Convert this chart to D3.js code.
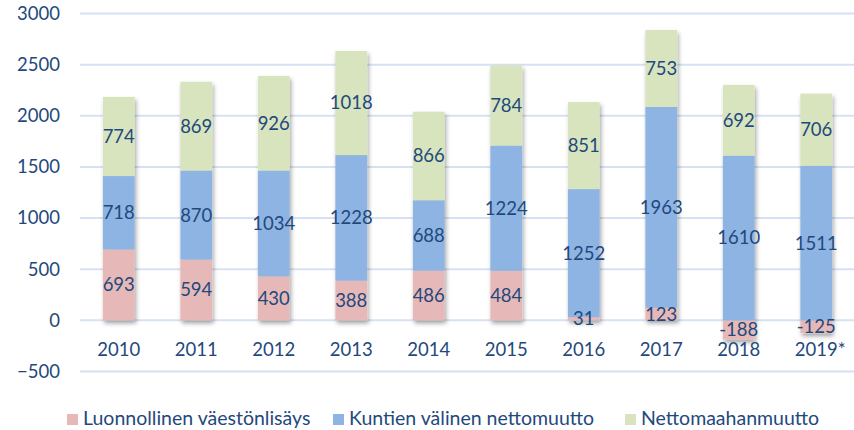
<!DOCTYPE html>
<html>
<head>
<meta charset="utf-8">
<script src="https://cdn.jsdelivr.net/npm/d3@7/dist/d3.min.js"></script>
<style>
  body { margin: 0; background: #fff; }
  svg text { font-family: Lato, "Open Sans", sans-serif; fill: #1f497d; }
</style>
</head>
<body>
<script>
// data
var years = ["2010", "2011", "2012", "2013", "2014", "2015", "2016", "2017", "2018", "2019*"];
var luonnollinen = [693, 594, 430, 388, 486, 484, 31, 123, -188, -125];
var kuntien = [718, 870, 1034, 1228, 688, 1224, 1252, 1963, 1610, 1511];
var netto = [774, 869, 926, 1018, 866, 784, 851, 753, 692, 706];
var seriesNames = ["Luonnollinen väestönlisäys", "Kuntien välinen nettomuutto", "Nettomaahanmuutto"];
var yTicks = [-500, 0, 500, 1000, 1500, 2000, 2500, 3000];

const WIDTH = 854;
const HEIGHT = 430;
const colors = ["#e6b9b8", "#8eb4e3", "#d7e4bd"];

var rows = years.map((y, i) => ({ year: y, s0: luonnollinen[i], s1: kuntien[i], s2: netto[i] }));
var stacked = d3.stack()
    .keys(["s0", "s1", "s2"])
    .offset(d3.stackOffsetDiverging)(rows);

var x = d3.scaleBand()
    .domain(years)
    .range([80, 855])
    .paddingInner(0.59)
    .paddingOuter(0.295);

var y = d3.scaleLinear()
    .domain([-500, 3000])
    .range([371.5, 13.5]);

var svg = d3.select("body").append("svg")
    .attr("width", WIDTH)
    .attr("height", HEIGHT);

// bar shadow
var filt = svg.append("defs").append("filter")
    .attr("id", "shadow")
    .attr("x", "-30%").attr("y", "-10%")
    .attr("width", "160%").attr("height", "130%");
filt.append("feDropShadow")
    .attr("dx", 1.5).attr("dy", 3)
    .attr("stdDeviation", 2)
    .attr("flood-color", "#000")
    .attr("flood-opacity", 0.35);

// gridlines
svg.append("g")
    .selectAll("line")
    .data(yTicks)
    .enter()
    .append("line")
    .attr("x1", 80)
    .attr("x2", WIDTH)
    .attr("y1", d => y(d))
    .attr("y2", d => y(d))
    .attr("stroke", "#d6e2f3")
    .attr("stroke-width", 2);

// y axis labels
var yAxis = svg.append("g")
    .attr("transform", "translate(66,0)")
    .call(d3.axisLeft(y).tickValues(yTicks).tickFormat(d3.format("d")).tickSize(0).tickPadding(6));
yAxis.select(".domain").remove();
yAxis.selectAll("text")
    .attr("font-size", "18.5px")
    .attr("font-family", null)
    .attr("fill", null);

// bars, one group per year so shadows don't stack on each other
var groups = svg.append("g")
    .selectAll("g")
    .data(years)
    .enter()
    .append("g")
    .attr("filter", "url(#shadow)");

groups.selectAll("rect")
    .data((yr, i) => stacked.map((s, k) => ({ k: k, lo: s[i][0], hi: s[i][1], year: yr })))
    .enter()
    .append("rect")
    .attr("x", d => x(d.year))
    .attr("width", x.bandwidth())
    .attr("y", d => y(Math.max(d.lo, d.hi)))
    .attr("height", d => Math.abs(y(d.lo) - y(d.hi)))
    .attr("fill", d => colors[d.k]);

// value labels
var labels = [];
stacked.forEach((s, k) => {
    s.forEach((pt, i) => {
        labels.push({ year: years[i], v: pt.data["s" + k], mid: (pt[0] + pt[1]) / 2 });
    });
});
svg.append("g")
    .selectAll("text")
    .data(labels)
    .enter()
    .append("text")
    .attr("x", d => x(d.year) + x.bandwidth() / 2)
    .attr("y", d => y(d.mid))
    .attr("dy", "0.35em")
    .attr("text-anchor", "middle")
    .attr("font-size", "18.5px")
    .text(d => d.v);

// year labels under the zero line
svg.append("g")
    .selectAll("text")
    .data(years)
    .enter()
    .append("text")
    .attr("x", d => x(d) + x.bandwidth() / 2 + (d.length > 4 ? 4 : 0))
    .attr("y", y(0) + 36)
    .attr("text-anchor", "middle")
    .attr("font-size", "18.5px")
    .text(d => d);

// legend
var legendX = [67, 333, 625];
var legend = svg.append("g")
    .selectAll("g")
    .data(seriesNames)
    .enter()
    .append("g")
    .attr("transform", (d, i) => `translate(${legendX[i]},0)`);
legend.append("rect")
    .attr("x", 0).attr("y", 414)
    .attr("width", 11).attr("height", 11)
    .attr("fill", (d, i) => colors[i]);
legend.append("text")
    .attr("x", 16)
    .attr("y", 425)
    .attr("font-size", "19.5px")
    .text(d => d);
</script>
</body>
</html>
